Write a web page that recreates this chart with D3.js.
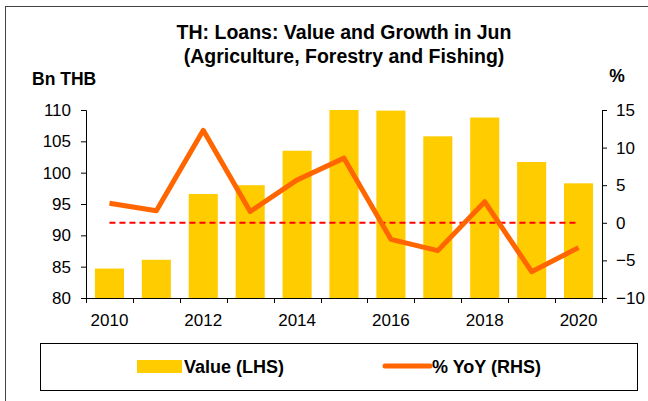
<!DOCTYPE html>
<html>
<head>
<meta charset="utf-8">
<script src="https://cdn.jsdelivr.net/npm/d3@7"></script>
<style>
    body { margin: 0; background: #fff; }
    text { font-family: "Liberation Sans", Arial, sans-serif; fill: #000; }
</style>
</head>
<body>
<script>
    // data
    var years = ["2010","2011","2012","2013","2014","2015","2016","2017","2018","2019","2020"];
    var loanValue = [84.7, 86.1, 96.6, 98.0, 103.5, 110.0, 109.9, 105.8, 108.8, 101.7, 98.3];
    var yoyGrowth = [2.6, 1.6, 12.3, 1.5, 5.7, 8.6, -2.2, -3.7, 2.8, -6.5, -3.3];
    var leftTicks = [80, 85, 90, 95, 100, 105, 110];
    var rightTicks = [-10, -5, 0, 5, 10, 15];
    var xLabels = ["2010","2012","2014","2016","2018","2020"];

    var width = 648, height = 401;
    var plot = {left: 86, right: 602, top: 110, bottom: 298};

    var svg = d3.select("body")
        .append("svg")
        .attr("width", width)
        .attr("height", height);

    // outer chart frame
    svg.append("rect")
        .attr("x", 5.5)
        .attr("y", 6.5)
        .attr("width", 700)
        .attr("height", 420)
        .attr("fill", "#fff")
        .attr("stroke", "#444")
        .attr("stroke-width", 1);

    var x = d3.scaleBand()
        .domain(years)
        .range([plot.left, plot.right])
        .paddingInner(0.38)
        .paddingOuter(0.19);

    var yLeft = d3.scaleLinear()
        .domain([80, 110])
        .range([plot.bottom, plot.top]);

    var yRight = d3.scaleLinear()
        .domain([-10, 15])
        .range([plot.bottom, plot.top]);

    // bars
    svg.selectAll(".bars")
        .data(years)
        .enter()
        .append("rect")
        .attr("class", "bars")
        .attr("x", function(d){ return x(d); })
        .attr("width", x.bandwidth())
        .attr("y", function(d, i){ return yLeft(loanValue[i]); })
        .attr("height", function(d, i){ return plot.bottom - yLeft(loanValue[i]); })
        .attr("fill", "#FFCC00");

    var center = function(d){ return x(d) + x.bandwidth() / 2; };

    // zero line
    svg.append("line")
        .attr("x1", center(years[0]))
        .attr("x2", center(years[years.length - 1]))
        .attr("y1", yRight(0))
        .attr("y2", yRight(0))
        .attr("stroke", "#FF0000")
        .attr("stroke-width", 2)
        .attr("stroke-dasharray", "6,4");

    // growth line
    var line = d3.line()
        .x(function(d, i){ return center(years[i]); })
        .y(function(d){ return yRight(d); });

    svg.append("path")
        .datum(yoyGrowth)
        .attr("d", line)
        .attr("fill", "none")
        .attr("stroke", "#FF6600")
        .attr("stroke-width", 5)
        .attr("stroke-linejoin", "round");

    // axes
    var leftAxis = svg.append("g")
        .attr("transform", "translate(" + plot.left + ",0)")
        .call(d3.axisLeft(yLeft).tickValues(leftTicks).tickSize(5).tickPadding(10));

    var rightAxis = svg.append("g")
        .attr("transform", "translate(" + plot.right + ",0)")
        .call(d3.axisRight(yRight).tickValues(rightTicks).tickSize(5).tickPadding(9));

    var step = x.step();
    var xBoundaries = d3.range(years.length + 1).map(function(i){ return plot.left + i * step; });
    var xAxis = svg.append("g").attr("class", "xaxis");
    xAxis.append("line")
        .attr("x1", plot.left).attr("x2", plot.right)
        .attr("y1", plot.bottom + 0.5).attr("y2", plot.bottom + 0.5)
        .attr("stroke", "#000");
    xAxis.selectAll(".xtick")
        .data(xBoundaries)
        .enter()
        .append("line")
        .attr("x1", function(d){ return Math.round(d) + 0.5; })
        .attr("x2", function(d){ return Math.round(d) + 0.5; })
        .attr("y1", plot.bottom)
        .attr("y2", plot.bottom + 5)
        .attr("stroke", "#000");
    xAxis.selectAll(".xlabel")
        .data(xLabels)
        .enter()
        .append("text")
        .attr("x", function(d){ return center(d); })
        .attr("y", plot.bottom + 28)
        .attr("text-anchor", "middle")
        .style("font-size", "17px")
        .text(function(d){ return d; });

    [leftAxis, rightAxis].forEach(function(g){
        g.select(".domain").attr("stroke", "#000");
        g.selectAll(".tick line").attr("stroke", "#000");
        g.selectAll(".tick text")
            .style("font-size", "17px")
            .style("font-family", "'Liberation Sans', Arial, sans-serif");
    });

    // titles
    svg.append("text")
        .attr("x", 344).attr("y", 39)
        .attr("text-anchor", "middle")
        .style("font-size", "19.5px").style("font-weight", "bold")
        .text("TH: Loans: Value and Growth in Jun");
    svg.append("text")
        .attr("x", 344).attr("y", 63)
        .attr("text-anchor", "middle")
        .style("font-size", "19.5px").style("font-weight", "bold")
        .text("(Agriculture, Forestry and Fishing)");

    svg.append("text")
        .attr("x", 32).attr("y", 85)
        .style("font-size", "17.5px").style("font-weight", "bold")
        .text("Bn THB");
    svg.append("text")
        .attr("x", 617).attr("y", 82)
        .attr("text-anchor", "middle")
        .style("font-size", "17.5px").style("font-weight", "bold")
        .text("%");

    // legend
    var legend = svg.append("g");
    legend.append("rect")
        .attr("x", 40.5).attr("y", 343.5)
        .attr("width", 597).attr("height", 47)
        .attr("fill", "#fff")
        .attr("stroke", "#000");
    legend.append("rect")
        .attr("x", 137).attr("y", 360)
        .attr("width", 45).attr("height", 13)
        .attr("fill", "#FFCC00");
    legend.append("text")
        .attr("x", 184).attr("y", 373)
        .style("font-size", "18px").style("font-weight", "bold")
        .text("Value (LHS)");
    legend.append("line")
        .attr("x1", 385).attr("x2", 430)
        .attr("y1", 366).attr("y2", 366)
        .attr("stroke", "#FF6600")
        .attr("stroke-width", 5)
        .attr("stroke-linecap", "round");
    legend.append("text")
        .attr("x", 432).attr("y", 373)
        .style("font-size", "18px").style("font-weight", "bold")
        .text("% YoY (RHS)");
</script>
</body>
</html>
